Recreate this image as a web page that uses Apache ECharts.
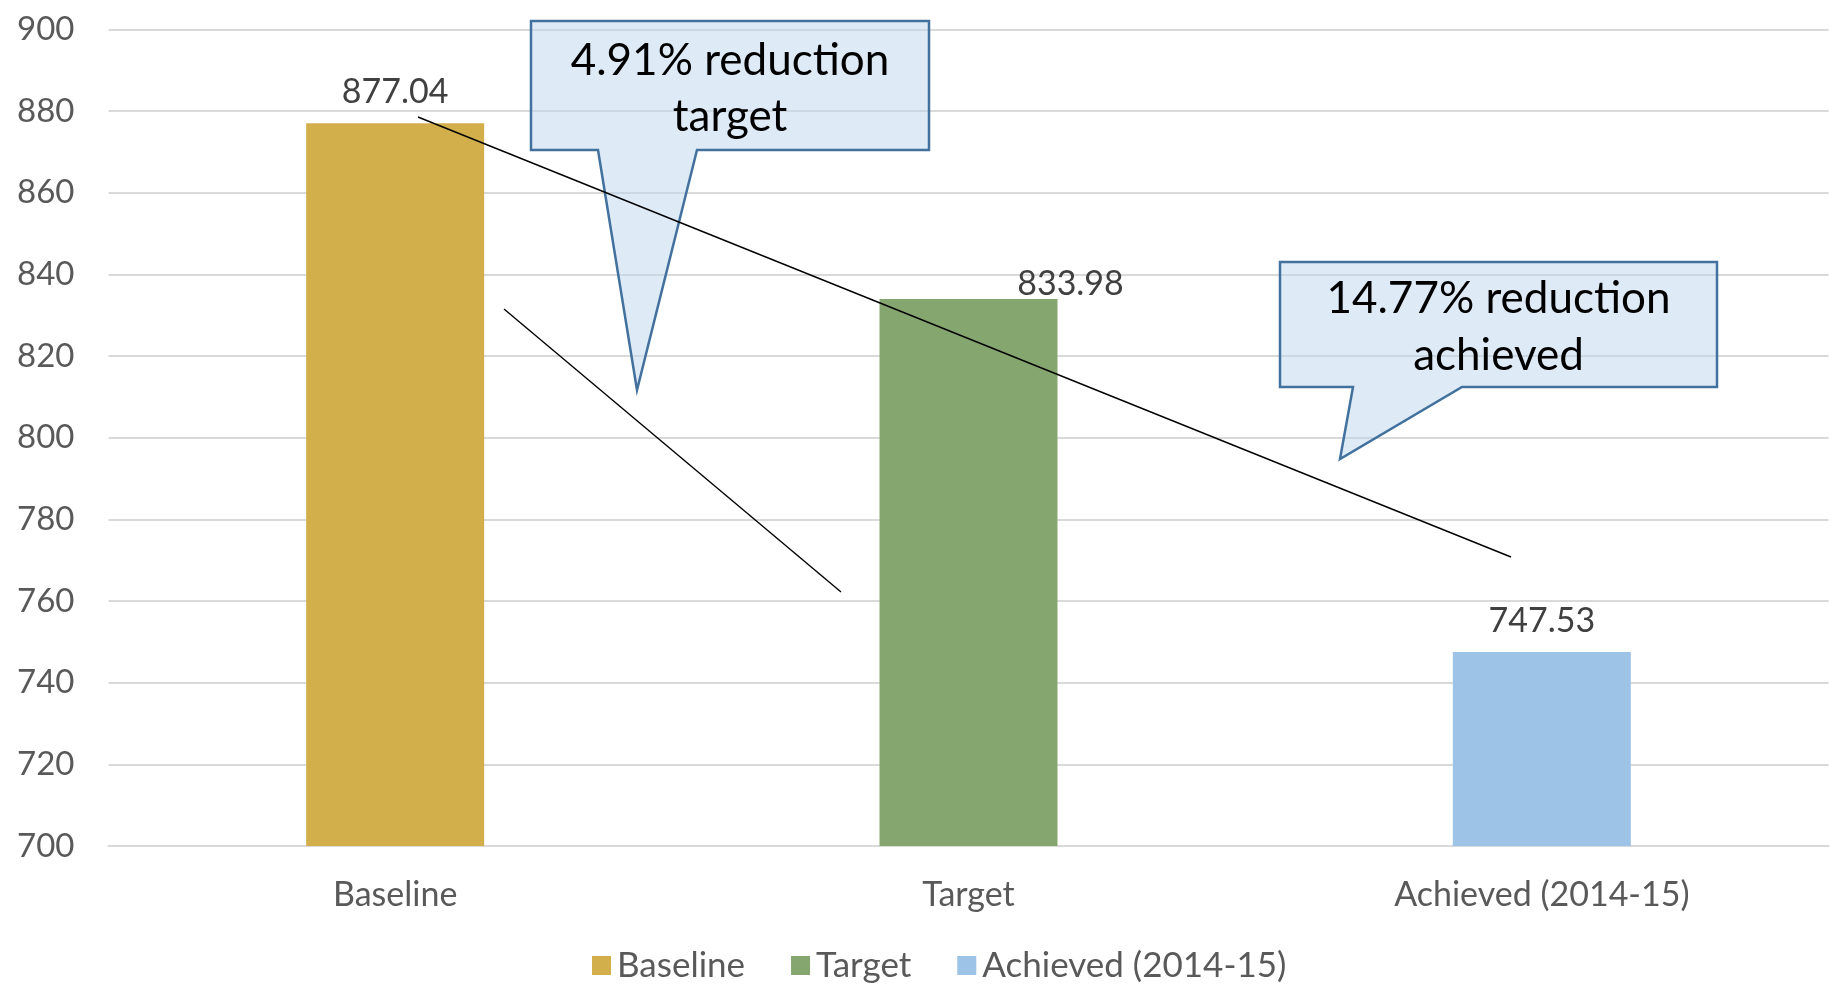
<!DOCTYPE html>
<html>
<head>
<meta charset="utf-8">
<script src="https://cdn.jsdelivr.net/npm/echarts@6/dist/echarts.min.js"></script>
<style>
  html, body { margin: 0; padding: 0; background: #ffffff; }
  #chart { width: 1830px; height: 987px; }
</style>
</head>
<body>
<div id="chart"></div>
<script>
// Emissions intensity: baseline, target and achieved (2014-15)
const categories = ['Baseline', 'Target', 'Achieved (2014-15)'];
const values = [877.04, 833.98, 747.53];
const barColors = ['#D3AF4B', '#85A76F', '#9DC3E6'];
const yTicks = { min: 700, max: 900, interval: 20 };
const calloutTexts = [
  ['4.91% reduction', 'target'],
  ['14.77% reduction', 'achieved']
];

const FONT = 'Lato, "Open Sans", sans-serif';

const chart = echarts.init(document.getElementById('chart'), null, { renderer: 'canvas' });

// One series per category so the legend lists each bar; bars overlap at their category slot.
const series = categories.map((name, i) => ({
  name: name,
  type: 'bar',
  barWidth: 178,
  barGap: '-100%',
  itemStyle: { color: barColors[i] },
  label: {
    show: true,
    position: 'top',
    distance: 14,
    color: '#404040',
    fontFamily: FONT,
    fontSize: 34,
    formatter: p => p.value.toFixed(2)
  },
  data: categories.map((c, j) => {
    if (j !== i) return null;
    // the target's value label sits to the right of its bar
    return i === 1 ? { value: values[j], label: { offset: [102, 16] } } : values[j];
  })
}));

// Callout shape: box with a wedge pointing down
function callout(box, wedge, lines, centers) {
  const [x0, y0, x1, y1] = box;
  const [bl, br, tip] = wedge;
  const els = [{
    type: 'polygon',
    z: 100,
    shape: { points: [[x0, y0], [x1, y0], [x1, y1], [br, y1], tip, [bl, y1], [x0, y1]] },
    style: { fill: 'rgba(189,214,238,0.5)', stroke: '#41719C', lineWidth: 2.5 }
  }];
  lines.forEach((t, k) => {
    els.push({
      type: 'text',
      z: 101,
      x: (x0 + x1) / 2,
      y: centers[k],
      style: {
        text: t, fill: '#000000', fontFamily: FONT, fontSize: 44,
        align: 'center', verticalAlign: 'middle'
      }
    });
  });
  return els;
}

const graphics = [].concat(
  callout([531, 21, 929, 150], [598, 697, [637, 390]], calloutTexts[0], [61, 117]),
  callout([1280, 262, 1717, 387], [1353, 1462, [1340, 459]], calloutTexts[1], [299, 356]),
  [
    { type: 'line', z: 102, shape: { x1: 418, y1: 117, x2: 1511, y2: 557 }, style: { stroke: '#000000', lineWidth: 1.4 } },
    { type: 'line', z: 102, shape: { x1: 504, y1: 309, x2: 841, y2: 592 }, style: { stroke: '#000000', lineWidth: 1.4 } }
  ]
);

chart.setOption({
  animation: false,
  backgroundColor: '#ffffff',
  grid: { left: 108.5, right: 1.5, top: 29.5, bottom: 141, containLabel: false },
  legend: {
    data: categories,
    left: 587,
    top: 943,
    icon: 'rect',
    itemWidth: 19,
    itemHeight: 19,
    itemGap: 46,
    textStyle: { color: '#595959', fontFamily: FONT, fontSize: 35, padding: [0, 0, 0, 1] }
  },
  xAxis: {
    type: 'category',
    data: categories,
    axisTick: { show: false },
    axisLine: { show: true, lineStyle: { color: '#D9D9D9', width: 2 } },
    axisLabel: { color: '#595959', fontFamily: FONT, fontSize: 34, margin: 32 }
  },
  yAxis: {
    type: 'value',
    min: yTicks.min,
    max: yTicks.max,
    interval: yTicks.interval,
    axisLine: { show: false },
    axisTick: { show: false },
    splitLine: { lineStyle: { color: '#D9D9D9', width: 2 } },
    axisLabel: { color: '#595959', fontFamily: FONT, fontSize: 33, margin: 34 }
  },
  series: series,
  graphic: graphics
});
</script>
</body>
</html>
